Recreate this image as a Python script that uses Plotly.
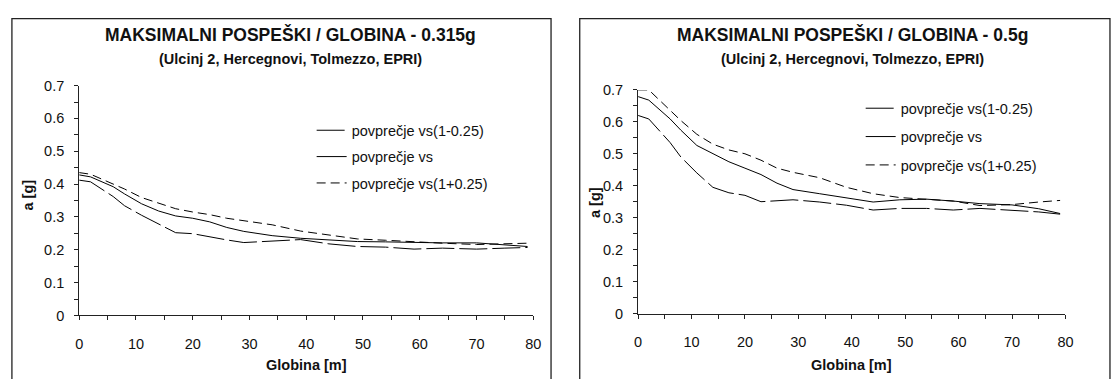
import plotly.graph_objects as go

W, H = 1115, 379

depth = [0, 2, 6, 8, 11, 14, 17, 20, 23, 26, 29, 34, 39, 44, 49, 54, 59, 64, 70, 75, 79]

# 0.315g
a315_low = [0.412, 0.407, 0.362, 0.334, 0.305, 0.278, 0.252, 0.249, 0.239, 0.230, 0.222, 0.227, 0.231, 0.218, 0.210, 0.208, 0.202, 0.205, 0.202, 0.205, 0.207]
a315_avg = [0.428, 0.422, 0.392, 0.370, 0.340, 0.318, 0.303, 0.296, 0.285, 0.268, 0.256, 0.243, 0.235, 0.229, 0.225, 0.224, 0.222, 0.221, 0.221, 0.215, 0.210]
a315_high = [0.435, 0.430, 0.400, 0.385, 0.359, 0.342, 0.325, 0.315, 0.307, 0.296, 0.288, 0.276, 0.257, 0.245, 0.233, 0.229, 0.224, 0.220, 0.216, 0.218, 0.220]

# 0.5g
a05_low = [0.620, 0.609, 0.535, 0.490, 0.440, 0.395, 0.378, 0.370, 0.350, 0.352, 0.356, 0.349, 0.339, 0.324, 0.329, 0.329, 0.324, 0.329, 0.323, 0.318, 0.311]
a05_avg = [0.679, 0.668, 0.609, 0.574, 0.526, 0.500, 0.475, 0.455, 0.435, 0.408, 0.388, 0.375, 0.362, 0.349, 0.356, 0.358, 0.352, 0.344, 0.340, 0.328, 0.313]
a05_high = [0.700, 0.700, 0.636, 0.604, 0.561, 0.530, 0.512, 0.500, 0.480, 0.455, 0.442, 0.425, 0.395, 0.375, 0.363, 0.357, 0.352, 0.338, 0.341, 0.349, 0.354]

names = ["povprečje vs(1-0.25)", "povprečje vs", "povprečje vs(1+0.25)"]
titles = ["MAKSIMALNI POSPEŠKI / GLOBINA - 0.315g", "MAKSIMALNI POSPEŠKI / GLOBINA - 0.5g"]
subtitle = "(Ulcinj 2, Hercegnovi, Tolmezzo, EPRI)"
xtitle = "Globina [m]"
ytitle = "a [g]"

FONT = "Liberation Sans, Arial, sans-serif"
dashes = ["28px,5px", "solid", "9px,5px"]

def px(x):
    return x / W

def py(y):
    return 1 - y / H

fig = go.Figure()

panels = [
    dict(series=[a315_low, a315_avg, a315_high], xa="x", ya="y", legend="legend"),
    dict(series=[a05_low, a05_avg, a05_high], xa="x2", ya="y2", legend="legend2"),
]
for pi, p in enumerate(panels):
    for si, s in enumerate(p["series"]):
        fig.add_trace(go.Scatter(
            x=depth, y=s, mode="lines", name=names[si],
            line=dict(color="black", width=1, dash=dashes[si]),
            xaxis=p["xa"], yaxis=p["ya"], legend=p["legend"],
            legendgroup=f"p{pi}s{si}", showlegend=True,
        ))

axis_common = dict(
    showline=True, linecolor="#222", linewidth=1, showgrid=False, zeroline=False,
    ticks="outside", ticklen=4, tickcolor="#222", tickwidth=1,
    tickfont=dict(family=FONT, size=14.5, color="#111"),
)
xminor = dict(dtick=5, ticks="outside", ticklen=4, tickcolor="#222")
yminor = dict(dtick=0.05, ticks="outside", ticklen=4, tickcolor="#222")

fig.update_layout(
    width=W, height=H, autosize=False,
    margin=dict(l=0, r=0, t=0, b=0),
    paper_bgcolor="white", plot_bgcolor="white",
    font=dict(family=FONT, color="#111"),
    xaxis=dict(domain=[px(76), px(535)], range=[0, 80], dtick=10, anchor="y",
               minor=xminor, ticklabelstandoff=11, **axis_common),
    yaxis=dict(domain=[py(321), py(81)], range=[0, 0.7], dtick=0.1, anchor="x",
               minor=yminor, ticklabelstandoff=7, **axis_common),
    xaxis2=dict(domain=[px(641), px(1073)], range=[0, 80], dtick=10, anchor="y2",
                minor=xminor, ticklabelstandoff=11, **axis_common),
    yaxis2=dict(domain=[py(319), py(85.5)], range=[0, 0.7], dtick=0.1, anchor="x2",
                minor=yminor, ticklabelstandoff=7, **axis_common),
    legend=dict(x=px(311), y=py(111), xanchor="left", yanchor="top",
                bgcolor="rgba(0,0,0,0)", tracegroupgap=4.5,
                font=dict(family=FONT, size=14.5, color="#111")),
    legend2=dict(x=px(866), y=py(88), xanchor="left", yanchor="top",
                 bgcolor="rgba(0,0,0,0)", tracegroupgap=6.5,
                 font=dict(family=FONT, size=14.5, color="#111")),
    showlegend=True,
)

# panel frames
fig.add_shape(type="rect", xref="paper", yref="paper", x0=px(8), x1=px(553), y0=-0.05, y1=py(11),
              line=dict(color="#222", width=1.3), fillcolor="rgba(0,0,0,0)", layer="below")
fig.add_shape(type="rect", xref="paper", yref="paper", x0=px(582), x1=px(1118), y0=-0.05, y1=py(11),
              line=dict(color="#222", width=1.3), fillcolor="rgba(0,0,0,0)", layer="below")

ann = []
for cx, cy, t in [(290, 28, titles[0]), (858, 28, titles[1])]:
    ann.append(dict(x=px(cx), y=py(cy), text=f"<b>{t}</b>", showarrow=False, xref="paper", yref="paper",
                    xanchor="center", yanchor="middle", font=dict(family=FONT, size=17.5, color="#111")))
for cx in (290, 858):
    ann.append(dict(x=px(cx), y=py(53), text=f"<b>{subtitle}</b>", showarrow=False, xref="paper", yref="paper",
                    xanchor="center", yanchor="middle", font=dict(family=FONT, size=14.5, color="#111")))
for cx in ((76 + 535) / 2, (641 + 1073) / 2):
    ann.append(dict(x=px(cx), y=py(373), text=f"<b>{xtitle}</b>", showarrow=False, xref="paper", yref="paper",
                    xanchor="center", yanchor="middle", font=dict(family=FONT, size=14.5, color="#111")))
for cx, cy in ((24, 195), (598, 203)):
    ann.append(dict(x=px(cx), y=py(cy), text=f"<b>{ytitle}</b>", showarrow=False, xref="paper", yref="paper",
                    xanchor="center", yanchor="middle", textangle=-90,
                    font=dict(family=FONT, size=14.5, color="#111")))
fig.update_layout(annotations=ann)

fig.write_html("out.html")
